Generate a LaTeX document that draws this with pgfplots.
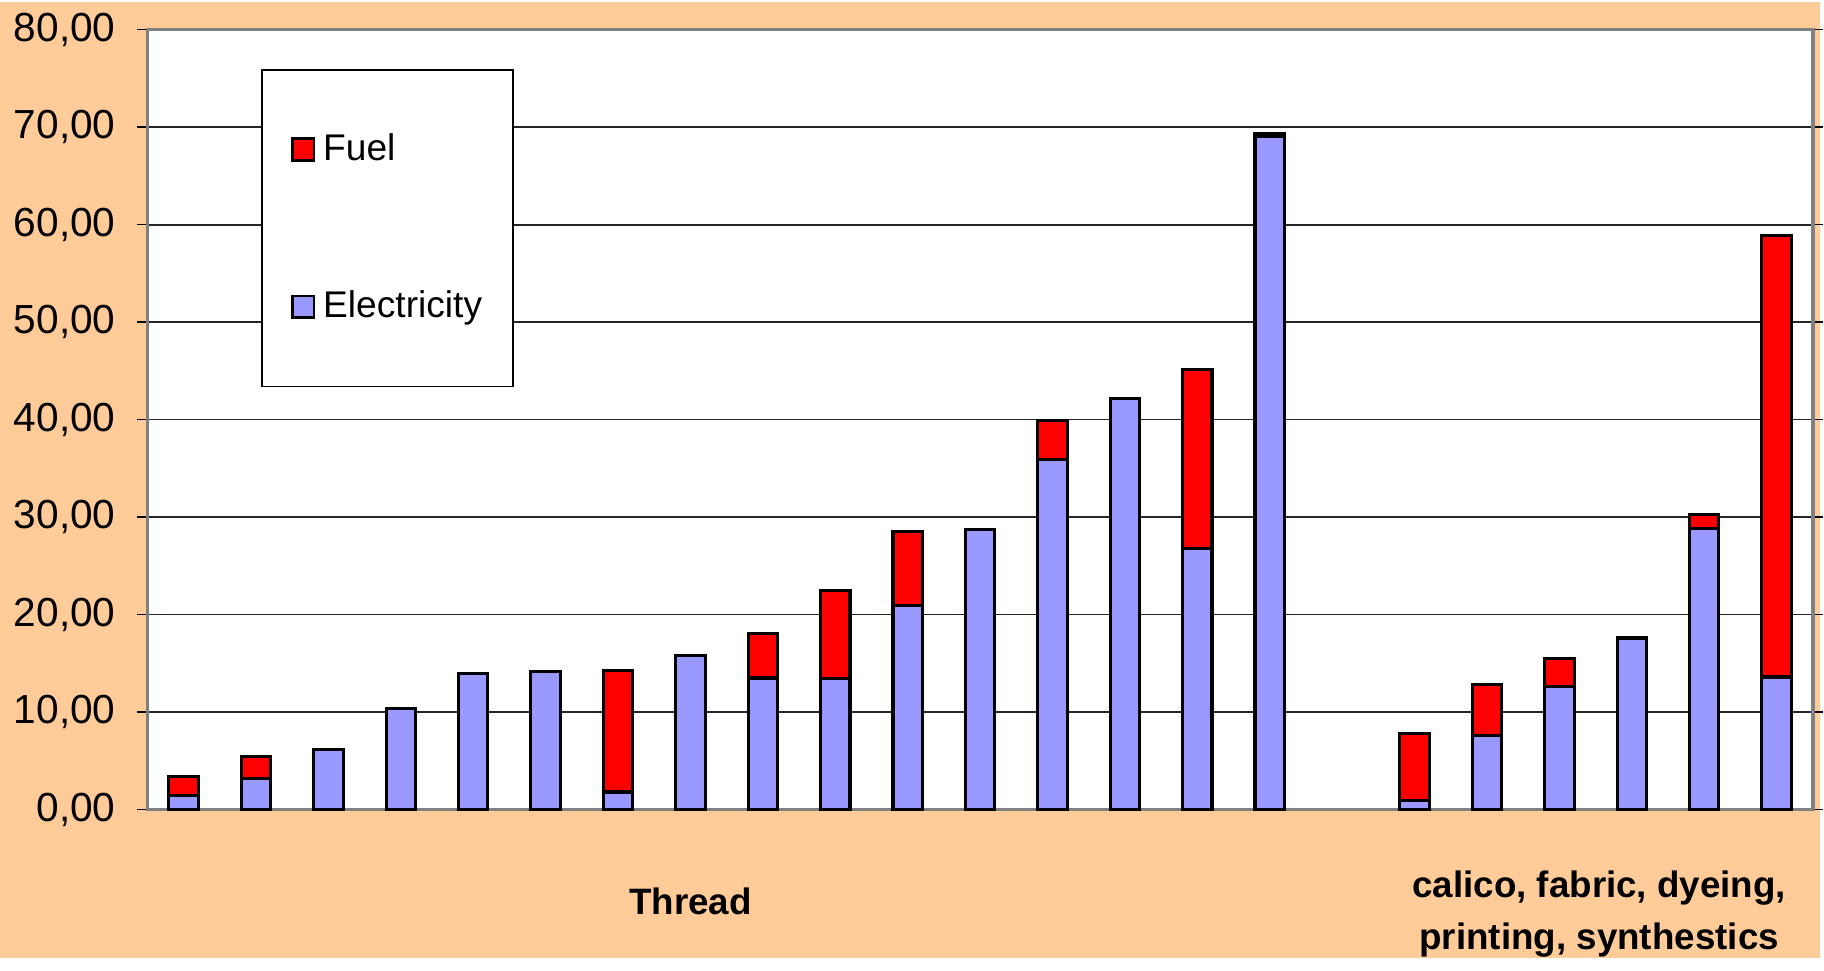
\documentclass[border=0pt]{standalone}
\usepackage{pgfplots}
\pgfplotsset{compat=1.18}
\usepackage{fontspec}
\setmainfont{Liberation Sans}

\definecolor{peach}{HTML}{FFCC99}
\definecolor{elec}{HTML}{9999FF}
\definecolor{fuel}{HTML}{FF0000}
\definecolor{frame}{HTML}{808080}

\pgfplotstableread{
x  elec  fuel
1  1.4   2.0
2  3.2   2.2
3  6.2   0
4  10.4  0
5  14.0  0
6  14.2  0
7  1.8   12.5
8  15.8  0
9  13.5  4.6
10 13.4  9.1
11 20.9  7.6
12 28.7  0
13 35.9  4.0
14 42.2  0
15 26.8  18.3
16 69.0  0.3
18 0.9   6.9
19 7.6   5.2
20 12.6  2.9
21 17.6  0
22 28.8  1.5
23 13.6  45.3
}\energy

\begin{document}
\begin{tikzpicture}
% page background
\fill[peach] (-38.1pt,-38.4pt) rectangle (432.3pt,208.8pt);
\begin{axis}[
    at={(0,0)}, anchor=south west,
    scale only axis,
    width=430.5pt, height=201.6pt,
    ybar stacked,
    bar width=7.6pt,
    xmin=0.5, xmax=23.5,
    ymin=0, ymax=80,
    ytick={0,10,...,80},
    xtick=\empty,
    clip=false,
    axis background/.style={fill=white},
    axis line style={frame, line width=0.9pt},
    ymajorgrids,
    major grid style={black!85, line width=0.45pt},
    tick align=outside,
    major tick length=2.7pt,
    ytick style={black, line width=0.4pt},
    y tick label style={font=\fontsize{10.5}{12}\selectfont, xshift=-2pt},
    /pgf/number format/.cd, fixed, fixed zerofill, precision=2, use comma,
        assume math mode=true,
    /pgfplots/.cd,
    reverse legend,
    legend style={at={(0.0683,0.949)}, anchor=north west,
        draw=black, line width=0.4pt, fill=white,
        font=\fontsize{9.6}{11}\selectfont,
        inner xsep=6pt, inner ysep=14.3pt, row sep=28.2pt},
    legend cell align=left,
    legend image code/.code={\path (0pt,0pt);
        \draw[#1, line width=0.7pt] (1.5pt,-2.8pt) rectangle (7.1pt,2.8pt);},
]
\addplot[fill=elec, draw=black, line width=0.8pt] table[x=x, y=elec] {\energy};
\addlegendentry{Electricity}
\addplot[fill=fuel, draw=black, line width=0.8pt] table[x=x, y=fuel] {\energy};
\addlegendentry{Fuel}

\node[font=\bfseries\fontsize{9.5}{11}\selectfont] at (axis cs:8.0,-9.4) {Thread};
\node[font=\bfseries\fontsize{9.5}{13.5}\selectfont, align=center] at (axis cs:20.55,-10.7)
    {calico, fabric, dyeing,\\printing, synthestics};
\end{axis}
\end{tikzpicture}
\end{document}
